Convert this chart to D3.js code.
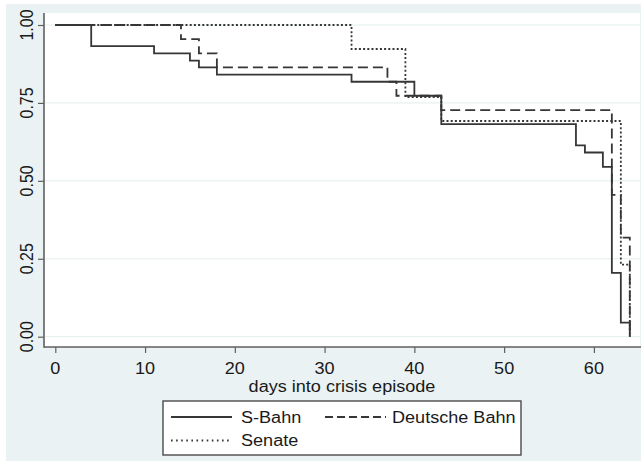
<!DOCTYPE html>
<html>
<head>
<meta charset="utf-8">
<script src="https://cdn.jsdelivr.net/npm/d3@7"></script>
<style>
  html, body { margin: 0; padding: 0; background: #ffffff; }
  svg { display: block; }
  text { font-family: "Liberation Sans", Arial, sans-serif; fill: #1a1a1a; }
</style>
</head>
<body>
<svg id="chart" width="641" height="461"></svg>
<script>
// ---- data ----
const sbahnDays     = [0, 4, 11, 15, 16, 18, 33, 40, 43, 58, 59, 61, 62, 63, 64];
const sbahnSurv     = [1, 0.932, 0.909, 0.886, 0.864, 0.841, 0.818, 0.773, 0.682, 0.614, 0.591, 0.545, 0.205, 0.045, 0];
const dbahnDays     = [0, 14, 16, 18, 37, 38, 43, 62, 63, 64];
const dbahnSurv     = [1, 0.955, 0.909, 0.864, 0.818, 0.773, 0.727, 0.455, 0.318, 0];
const senateDays    = [0, 33, 39, 43, 63, 64];
const senateSurv    = [1, 0.923, 0.769, 0.692, 0.231, 0];
const xTicks        = [0, 10, 20, 30, 40, 50, 60];
const yTicks        = [0, 0.25, 0.5, 0.75, 1];
const xTitle        = "days into crisis episode";
const seriesNames   = ["S-Bahn", "Deutsche Bahn", "Senate"];

const series = [
  { name: seriesNames[0], days: sbahnDays,  surv: sbahnSurv,  dash: null },
  { name: seriesNames[1], days: dbahnDays,  surv: dbahnSurv,  dash: "10,5" },
  { name: seriesNames[2], days: senateDays, surv: senateSurv, dash: "2,2.2" }
];

const svg = d3.select("#chart");
const SX = 1.13;          // horizontal stretch of the original picture's text
const bg = "#eaf2f3";
const lineCol = "#363636";
const axisCol = "#5f5f5f";

// outer background
svg.append("rect").attr("x", 6).attr("y", 4).attr("width", 635).attr("height", 457).attr("fill", bg);

// plot region
const plot = { left: 44, right: 640, top: 13, bottom: 347 };
svg.append("rect").attr("x", plot.left).attr("y", plot.top)
  .attr("width", plot.right - plot.left).attr("height", plot.bottom - plot.top).attr("fill", "#ffffff");

const x = d3.scaleLinear().domain([0, 60]).range([55.3, 593.9]);
const y = d3.scaleLinear().domain([0, 1]).range([336.7, 25]);

// gridlines
svg.append("g").selectAll("line").data(yTicks).join("line")
  .attr("x1", plot.left + 1).attr("x2", plot.right)
  .attr("y1", d => y(d)).attr("y2", d => y(d))
  .attr("stroke", "#e3edee").attr("stroke-width", 1);

// axes
const yAxis = d3.axisLeft(y).tickValues(yTicks).tickSize(6).tickFormat("");
const gy = svg.append("g").attr("transform", `translate(${plot.left},0)`).call(yAxis);
gy.select(".domain").remove();
gy.selectAll(".tick line").attr("stroke", axisCol).attr("stroke-width", 1.2);

const xAxis = d3.axisBottom(x).tickValues(xTicks).tickSize(6).tickFormat("");
const gx = svg.append("g").attr("transform", `translate(0,${plot.bottom})`).call(xAxis);
gx.select(".domain").remove();
gx.selectAll(".tick line").attr("stroke", axisCol).attr("stroke-width", 1.2);

svg.append("line").attr("x1", plot.left).attr("x2", plot.left)
  .attr("y1", plot.top).attr("y2", plot.bottom + 0.7)
  .attr("stroke", axisCol).attr("stroke-width", 1.6);
svg.append("line").attr("x1", plot.left).attr("x2", plot.right + 1)
  .attr("y1", plot.bottom).attr("y2", plot.bottom)
  .attr("stroke", axisCol).attr("stroke-width", 1.6);

// tick labels
const fmt = d3.format(".2f");
svg.append("g").selectAll("text").data(yTicks).join("text")
  .attr("transform", d => `translate(33,${y(d)}) scale(${SX},1) rotate(-90)`)
  .attr("text-anchor", "middle").attr("font-size", 16)
  .text(d => fmt(d));

svg.append("g").selectAll("text").data(xTicks).join("text")
  .attr("transform", d => `translate(${x(d)},374) scale(${SX},1)`)
  .attr("text-anchor", "middle").attr("font-size", 16)
  .text(d => d);

svg.append("text")
  .attr("transform", `translate(${(plot.left + plot.right) / 2},391.5) scale(${SX},1)`)
  .attr("text-anchor", "middle").attr("font-size", 16)
  .text(xTitle);

// survival step lines
const line = d3.line().x(d => x(d[0])).y(d => y(d[1])).curve(d3.curveStepAfter);
svg.append("g").selectAll("path").data(series).join("path")
  .attr("d", s => line(s.days.map((d, i) => [d, s.surv[i]])))
  .attr("fill", "none").attr("stroke", lineCol).attr("stroke-width", 1.8)
  .attr("stroke-dasharray", s => s.dash);

// legend
const lg = svg.append("g");
lg.append("rect").attr("x", 163).attr("y", 401).attr("width", 358).attr("height", 54)
  .attr("fill", "#ffffff").attr("stroke", "#4a4a4a").attr("stroke-width", 1.4);
const legendPos = [
  { lx: 171, ly: 417, tx: 241, ty: 423.3, dash: null },
  { lx: 325, ly: 417, tx: 392, ty: 423.3, dash: "8,4" },
  { lx: 171, ly: 440.5, tx: 241, ty: 446, dash: "1.6,3.5" }
];
series.forEach((s, i) => {
  const p = legendPos[i];
  lg.append("line").attr("x1", p.lx).attr("x2", p.lx + 61).attr("y1", p.ly).attr("y2", p.ly)
    .attr("stroke", lineCol).attr("stroke-width", 1.8).attr("stroke-dasharray", p.dash);
  lg.append("text").attr("transform", `translate(${p.tx},${p.ty}) scale(${SX},1)`)
    .attr("font-size", 16).text(s.name);
});
</script>
</body>
</html>
